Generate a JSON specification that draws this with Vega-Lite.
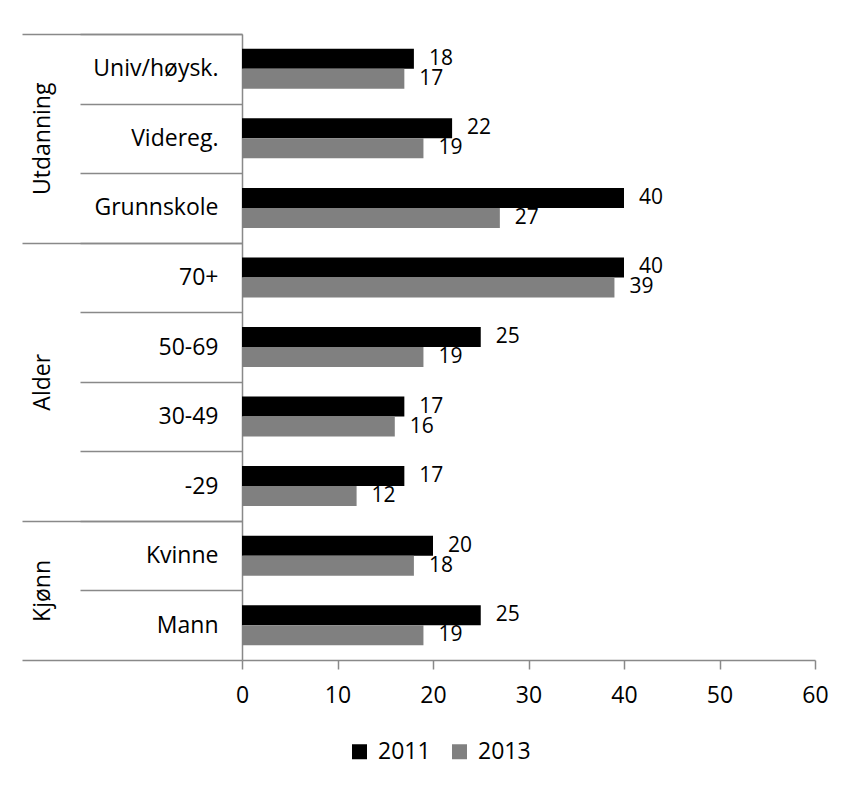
{
  "$schema": "https://vega.github.io/schema/vega-lite/v6.json",
  "width": 573,
  "height": 626,
  "autosize": {"type": "none"},
  "padding": {"left": 242, "top": 34, "right": 33, "bottom": 125},
  "background": "white",
  "config": {
    "view": {"stroke": null},
    "font": "Open Sans",
    "axis": {"grid": false, "labelFont": "Open Sans", "labelColor": "#000000"},
    "text": {"font": "Open Sans"}
  },
  "data": {
    "values": [
      {"kategori": "Univ/høysk.", "aar": "2011", "verdi": 18},
      {"kategori": "Univ/høysk.", "aar": "2013", "verdi": 17},
      {"kategori": "Videreg.", "aar": "2011", "verdi": 22},
      {"kategori": "Videreg.", "aar": "2013", "verdi": 19},
      {"kategori": "Grunnskole", "aar": "2011", "verdi": 40},
      {"kategori": "Grunnskole", "aar": "2013", "verdi": 27},
      {"kategori": "70+", "aar": "2011", "verdi": 40},
      {"kategori": "70+", "aar": "2013", "verdi": 39},
      {"kategori": "50-69", "aar": "2011", "verdi": 25},
      {"kategori": "50-69", "aar": "2013", "verdi": 19},
      {"kategori": "30-49", "aar": "2011", "verdi": 17},
      {"kategori": "30-49", "aar": "2013", "verdi": 16},
      {"kategori": "-29", "aar": "2011", "verdi": 17},
      {"kategori": "-29", "aar": "2013", "verdi": 12},
      {"kategori": "Kvinne", "aar": "2011", "verdi": 20},
      {"kategori": "Kvinne", "aar": "2013", "verdi": 18},
      {"kategori": "Mann", "aar": "2011", "verdi": 25},
      {"kategori": "Mann", "aar": "2013", "verdi": 19}
    ]
  },
  "layer": [
    {
      "mark": {"type": "bar"},
      "encoding": {
        "y": {
          "field": "kategori",
          "type": "nominal",
          "sort": ["Univ/høysk.", "Videreg.", "Grunnskole", "70+", "50-69", "30-49", "-29", "Kvinne", "Mann"],
          "scale": {"paddingInner": 0, "paddingOuter": 0},
          "axis": {
            "title": null,
            "orient": "left",
            "labelFontSize": 23,
            "labelColor": "#000000",
            "labelAlign": "right",
            "labelBaseline": "middle",
            "tickBand": "extent",
            "tickSize": {"condition": {"test": "datum.value === 'Mann'", "value": 220}, "value": 162},
            "labelPadding": {"condition": {"test": "datum.value === 'Mann'", "value": -196}, "value": -138},
            "tickColor": "#898989",
            "tickWidth": 1.5,
            "domainColor": "#898989",
            "domainWidth": 1.5
          }
        },
        "yOffset": {
          "field": "aar",
          "type": "nominal",
          "sort": ["2011", "2013"],
          "scale": {"paddingInner": 0, "paddingOuter": 0.74}
        },
        "x": {
          "field": "verdi",
          "type": "quantitative",
          "scale": {"domain": [0, 60]},
          "axis": {
            "title": null,
            "values": [0, 10, 20, 30, 40, 50, 60],
            "labelFontSize": 23,
            "labelColor": "#000000",
            "labelFlush": false,
            "tickSize": 9,
            "labelPadding": 15,
            "tickColor": "#898989",
            "tickWidth": 1.5,
            "domainColor": "#898989",
            "domainWidth": 1.5,
            "grid": false
          }
        },
        "color": {
          "field": "aar",
          "type": "nominal",
          "scale": {"domain": ["2011", "2013"], "range": ["#000000", "#808080"]},
          "legend": {
            "orient": "none",
            "legendX": 106,
            "legendY": 706,
            "direction": "horizontal",
            "title": null,
            "symbolType": "square",
            "symbolSize": 225,
            "symbolStrokeWidth": 0,
            "labelFontSize": 23,
            "labelFont": "Open Sans",
            "labelColor": "#000000",
            "labelOffset": 7,
            "columnPadding": 17
          }
        }
      }
    },
    {
      "mark": {"type": "text", "align": "left", "baseline": "middle", "dx": 15, "fontSize": 21, "color": "#000000"},
      "encoding": {
        "y": {
          "field": "kategori",
          "type": "nominal",
          "sort": ["Univ/høysk.", "Videreg.", "Grunnskole", "70+", "50-69", "30-49", "-29", "Kvinne", "Mann"],
          "axis": {
            "title": null,
            "orient": "left",
            "domain": false,
            "values": ["Univ/høysk.", "70+", "Kvinne"],
            "tickOffset": -34.78,
            "tickSize": 220,
            "tickColor": "#898989",
            "tickWidth": 1.5,
            "labelExpr": "datum.value === 'Univ/høysk.' ? 'Utdanning' : (datum.value === '70+' ? 'Alder' : 'Kjønn')",
            "labelAngle": -90,
            "labelAlign": "center",
            "labelBaseline": "middle",
            "labelPadding": -20,
            "labelFontSize": 23,
            "labelColor": "#000000",
            "labelOffset": {"condition": [{"test": "datum.value === 'Univ/høysk.'", "value": 104.3}, {"test": "datum.value === '70+'", "value": 139.1}], "value": 69.6}
          }
        },
        "yOffset": {"field": "aar", "type": "nominal", "sort": ["2011", "2013"]},
        "x": {"field": "verdi", "type": "quantitative"},
        "text": {"field": "verdi", "type": "quantitative"}
      }
    }
  ],
  "resolve": {"axis": {"y": "independent"}}
}
